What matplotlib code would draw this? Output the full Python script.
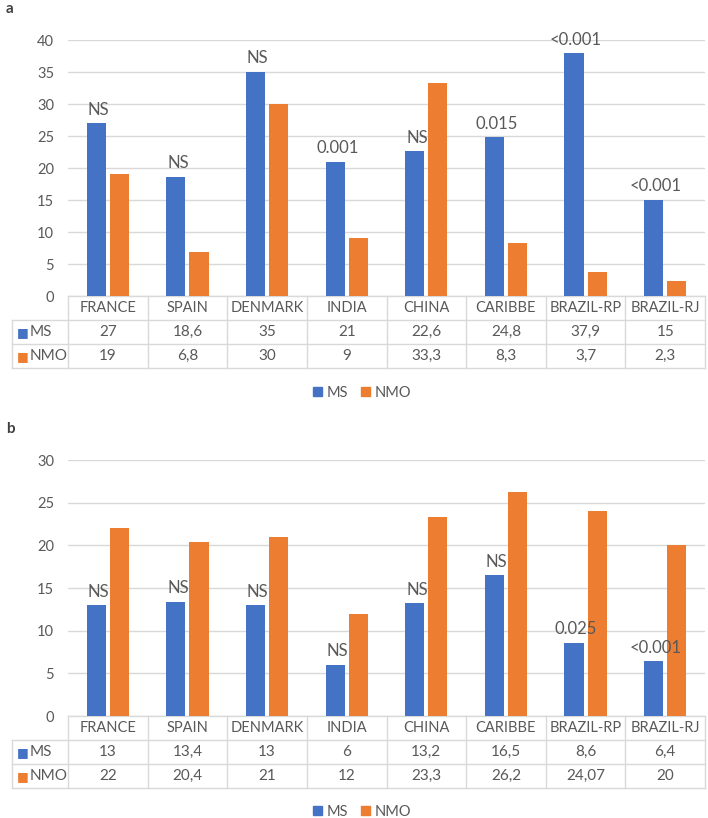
import numpy as np
import matplotlib
matplotlib.use("Agg")
from matplotlib import pyplot as plt
from matplotlib.patches import Patch

plt.rcParams['font.family'] = ['Lato', 'DejaVu Sans']

countries = ['FRANCE', 'SPAIN', 'DENMARK', 'INDIA', 'CHINA', 'CARIBBE', 'BRAZIL-RP', 'BRAZIL-RJ']

ms_a = [27, 18.6, 35, 21, 22.6, 24.8, 37.9, 15]
nmo_a = [19, 6.8, 30, 9, 33.3, 8.3, 3.7, 2.3]
p_a = ['NS', 'NS', 'NS', '0.001', 'NS', '0.015', '<0.001', '<0.001']
yticks_a = [0, 5, 10, 15, 20, 25, 30, 35, 40]

ms_b = [13, 13.4, 13, 6, 13.2, 16.5, 8.6, 6.4]
nmo_b = [22, 20.4, 21, 12, 23.3, 26.2, 24.07, 20]
p_b = ['NS', 'NS', 'NS', 'NS', 'NS', 'NS', '0.025', '<0.001']
yticks_b = [0, 5, 10, 15, 20, 25, 30]

BLUE = '#4472C4'
ORANGE = '#ED7D31'
TXT = '#595959'
GRID = '#D9D9D9'

W, H = 708, 818


def fmt(v):
    return '{:g}'.format(v).replace('.', ',')


def panel(top_px, ms, nmo, pvals, yticks, letter, legend_y):
    # plot area in pixels: x 68..705, height 256
    ax = fig.add_axes([68 / W, (H - top_px - 256) / H, 637 / W, 256 / H])
    x = np.arange(len(countries))
    ax.bar(x - 0.145, ms, 0.24, color=BLUE, zorder=3)
    ax.bar(x + 0.145, nmo, 0.24, color=ORANGE, zorder=3)
    ax.set_xlim(-0.5, len(countries) - 0.5)
    ax.set_ylim(yticks[0], yticks[-1])
    ax.set_yticks(yticks)
    ax.set_xticks([])
    ax.tick_params(axis='y', length=0, pad=10, labelsize=10.5, labelcolor=TXT)
    for s in ax.spines.values():
        s.set_visible(False)
    ax.grid(axis='y', color=GRID, lw=1, zorder=0)

    for i, (v, p) in enumerate(zip(ms, pvals)):
        ax.annotate(p, (i - 0.145, v), xytext=(1.5, 4), textcoords='offset points',
                    ha='center', va='bottom', fontsize=12, color=TXT)

    # data table under the axis
    rh = 24 / 256
    tr = ax.get_xaxis_transform()
    xl = -0.5 - 56 / 637 * len(countries)  # row label column left edge
    lk = dict(color=GRID, lw=1, transform=tr, clip_on=False)
    ax.plot([-0.5, 7.5], [0, 0], **lk)
    for k in (1, 2, 3):
        ax.plot([xl, 7.5], [-k * rh, -k * rh], **lk)
    ax.plot([xl, xl], [-rh, -3 * rh], **lk)
    for b in np.arange(-0.5, 8.0, 1.0):
        ax.plot([b, b], [0, -3 * rh], **lk)
    for i, c in enumerate(countries):
        ax.text(i, -0.5 * rh, c, transform=tr, ha='center', va='center',
                fontsize=10.5, color=TXT)
        ax.text(i, -1.5 * rh, fmt(ms[i]), transform=tr, ha='center', va='center',
                fontsize=11, color=TXT)
        ax.text(i, -2.5 * rh, fmt(nmo[i]), transform=tr, ha='center', va='center',
                fontsize=11, color=TXT)
    for k, (name, col) in enumerate([('MS', BLUE), ('NMO', ORANGE)]):
        yy = 1 - (top_px + 256 + 24 * (1.5 + k)) / H
        fig.text(17 / W, yy, '\u25A0', color=col, fontsize=9, ha='left', va='center')
        fig.text(30 / W, yy, name, color=TXT, fontsize=11, ha='left', va='center')

    fig.text(6 / W, 1 - (top_px - 31) / H, letter, fontsize=11, fontweight='bold',
             color='#404040', ha='left', va='center')
    handles = [Patch(color=BLUE, label='MS'), Patch(color=ORANGE, label='NMO')]
    fig.legend(handles=handles, loc='center', bbox_to_anchor=(362 / W, 1 - legend_y / H),
               ncol=2, frameon=False, fontsize=10.5, handlelength=0.6, handleheight=0.6,
               handletextpad=0.3, columnspacing=0.9, labelcolor=TXT)
    return ax


fig = plt.figure(figsize=(W / 100, H / 100), dpi=100)
panel(40, ms_a, nmo_a, p_a, yticks_a, 'a', 393)
panel(460, ms_b, nmo_b, p_b, yticks_b, 'b', 812)
fig.savefig('out.png', dpi=100)
